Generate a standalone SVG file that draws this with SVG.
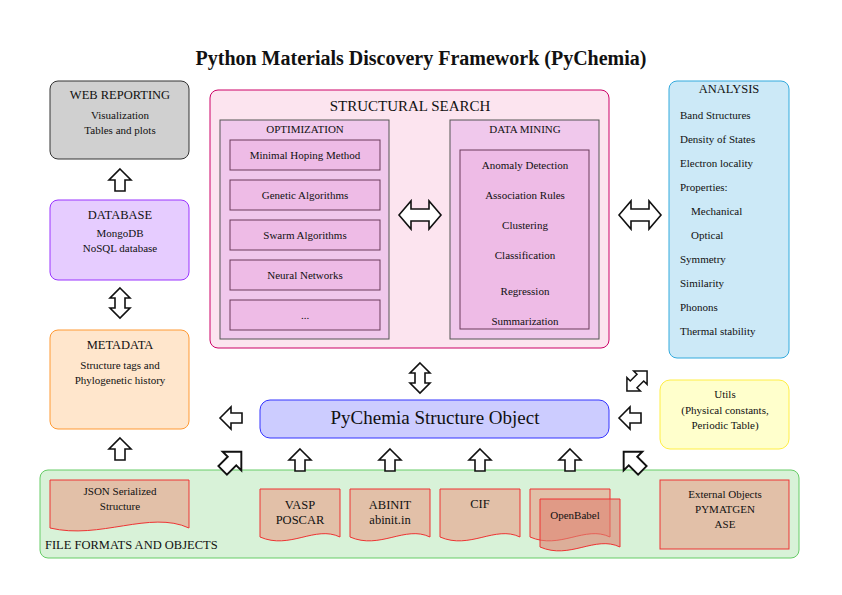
<svg xmlns="http://www.w3.org/2000/svg" width="842" height="595" viewBox="0 0 842 595">
<style>
text{font-family:"Liberation Serif","DejaVu Serif",serif;fill:#111;text-anchor:middle}
.s{font-size:11px}.m{font-size:12.5px}
.doc{fill:#e2c0a8;stroke:#ee3333;stroke-width:1}
.in{fill:#eebbe6;stroke:#6a3a5a;stroke-width:1}
.ar{fill:#fff;stroke:#111;stroke-width:1.6}
</style>
<defs>
<path id="up" d="M0,-11 L11,0 L5,0 L5,11 L-5,11 L-5,0 L-11,0 Z"/>
<path id="dv" d="M0,-15 L10,-5 L5,-5 L5,5 L10,5 L0,15 L-10,5 L-5,5 L-5,-5 L-10,-5 Z"/>
<path id="dh" d="M-21,0 L-9,-14 L-9,-6 L9,-6 L9,-14 L21,0 L9,14 L9,6 L-9,6 L-9,14 Z"/>
</defs>
<rect width="842" height="595" fill="#fff"/>
<text x="421" y="65" style="font-size:20px;font-weight:bold">Python Materials Discovery Framework (PyChemia)</text>
<g id="web"><rect x="50" y="81" width="139" height="78" rx="8" fill="#d0d0d0" stroke="#333"/>
<text x="120" y="99" class="m">WEB REPORTING</text><text x="120" y="119" class="s">Visualization</text><text x="120" y="134" class="s">Tables and plots</text></g>
<g id="database"><rect x="50" y="200" width="139" height="80" rx="8" fill="#e6ccff" stroke="#9933ff"/>
<text x="120" y="219" class="m">DATABASE</text><text x="120" y="237" class="s">MongoDB</text><text x="120" y="252" class="s">NoSQL database</text></g>
<g id="metadata"><rect x="50" y="330" width="139" height="99" rx="8" fill="#ffe6cc" stroke="#ff9933"/>
<text x="120" y="349" class="m">METADATA</text><text x="120" y="369" class="s">Structure tags and</text><text x="120" y="384" class="s">Phylogenetic history</text></g>
<g id="search"><rect x="210" y="90" width="399" height="258" rx="8" fill="#fce4ef" stroke="#cc0066"/>
<text x="410" y="111" style="font-size:15px">STRUCTURAL SEARCH</text></g>
<g id="optimization"><rect x="220" y="120" width="169" height="219" fill="#f0c8ec" stroke="#555"/>
<text x="305" y="133" class="s">OPTIMIZATION</text>
<rect class="in" x="230" y="140" width="150" height="30"/><text x="305" y="159" class="s">Minimal Hoping Method</text>
<rect class="in" x="230" y="180" width="150" height="30"/><text x="305" y="199" class="s">Genetic Algorithms</text>
<rect class="in" x="230" y="220" width="150" height="30"/><text x="305" y="239" class="s">Swarm Algorithms</text>
<rect class="in" x="230" y="260" width="150" height="30"/><text x="305" y="279" class="s">Neural Networks</text>
<rect class="in" x="230" y="300" width="150" height="30"/><text x="305" y="319" class="s">...</text></g>
<g id="datamining"><rect x="450" y="120" width="149" height="219" fill="#f0c8ec" stroke="#555"/>
<text x="525" y="133" class="s">DATA MINING</text>
<rect class="in" x="460" y="150" width="129" height="179"/>
<text x="525" y="169" class="s">Anomaly Detection</text><text x="525" y="199" class="s">Association Rules</text>
<text x="525" y="229" class="s">Clustering</text><text x="525" y="259" class="s">Classification</text>
<text x="525" y="295" class="s">Regression</text><text x="525" y="325" class="s">Summarization</text></g>
<g id="analysis"><rect x="669" y="81" width="120" height="277" rx="8" fill="#cce9f7" stroke="#33aadd"/>
<text x="729" y="93" class="m">ANALYSIS</text>
<text x="680" y="119" class="s" style="text-anchor:start">Band Structures</text>
<text x="680" y="143" class="s" style="text-anchor:start">Density of States</text>
<text x="680" y="167" class="s" style="text-anchor:start">Electron locality</text>
<text x="680" y="191" class="s" style="text-anchor:start">Properties:</text>
<text x="691" y="215" class="s" style="text-anchor:start">Mechanical</text>
<text x="691" y="239" class="s" style="text-anchor:start">Optical</text>
<text x="680" y="263" class="s" style="text-anchor:start">Symmetry</text>
<text x="680" y="287" class="s" style="text-anchor:start">Similarity</text>
<text x="680" y="311" class="s" style="text-anchor:start">Phonons</text>
<text x="680" y="335" class="s" style="text-anchor:start">Thermal stability</text></g>
<g id="pychemia"><rect x="260" y="400" width="349" height="38" rx="10" fill="#ccccff" stroke="#3333ff"/>
<text x="435" y="424" style="font-size:19px">PyChemia Structure Object</text></g>
<g id="utils"><rect x="660" y="380" width="129" height="69" rx="10" fill="#ffffcc" stroke="#ffee44"/>
<text x="725" y="398" class="s">Utils</text><text x="725" y="414" class="s">(Physical constants,</text><text x="725" y="429" class="s">Periodic Table)</text></g>
<g id="files"><rect x="40" y="470" width="759" height="88" rx="8" fill="#d8f2d8" stroke="#66cc66"/>
<text x="45" y="549" class="m" style="text-anchor:start">FILE FORMATS AND OBJECTS</text>
<path class="doc" d="M50,480 H189 V528 C150,510 100,540 50,528 Z"/>
<text x="120" y="495" class="s">JSON Serialized</text><text x="120" y="510" class="s">Structure</text>
<path class="doc" d="M260,489 H340 V537 C315,525 290,550 260,537 Z"/>
<text x="300" y="509" class="m">VASP</text><text x="300" y="524" class="m">POSCAR</text>
<path class="doc" d="M350,489 H430 V537 C405,525 380,550 350,537 Z"/>
<text x="390" y="509" class="m">ABINIT</text><text x="390" y="524" class="m">abinit.in</text>
<path class="doc" d="M440,489 H520 V537 C495,525 470,550 440,537 Z"/>
<text x="480" y="508" class="m">CIF</text>
<path class="doc" d="M530,489 H610 V537 C585,525 560,550 530,537 Z"/>
<path class="doc" d="M540,499 H620 V547 C595,535 570,560 540,547 Z" style="fill:#e08070;fill-opacity:.6"/>
<text x="575" y="519" class="s">OpenBabel</text>
<rect class="doc" x="660" y="480" width="129" height="69"/>
<text x="725" y="498" class="s">External Objects</text><text x="725" y="513" class="s">PYMATGEN</text><text x="725" y="528" class="s">ASE</text></g>
<g id="connectors">
<use href="#up" class="ar" x="120" y="180"/>
<use href="#dv" class="ar" x="120" y="303"/>
<use href="#up" class="ar" transform="translate(231,418) rotate(-90)"/>
<use href="#up" class="ar" x="120" y="449"/>
<use href="#up" class="ar" transform="translate(232,461) rotate(45) scale(1.2)"/>
<use href="#up" class="ar" x="300" y="460"/>
<use href="#up" class="ar" x="390" y="460"/>
<use href="#up" class="ar" x="480" y="460"/>
<use href="#up" class="ar" x="570" y="460"/>
<use href="#up" class="ar" transform="translate(633,461) rotate(-45) scale(1.2)"/>
<use href="#up" class="ar" transform="translate(630,418) rotate(-90)"/>
<use href="#dv" class="ar" transform="translate(637,381) rotate(45) scale(0.95)"/>
<use href="#dv" class="ar" x="420" y="378"/>
<use href="#dh" class="ar" x="420" y="215"/>
<use href="#dh" class="ar" x="640" y="215"/>
</g>
</svg>
